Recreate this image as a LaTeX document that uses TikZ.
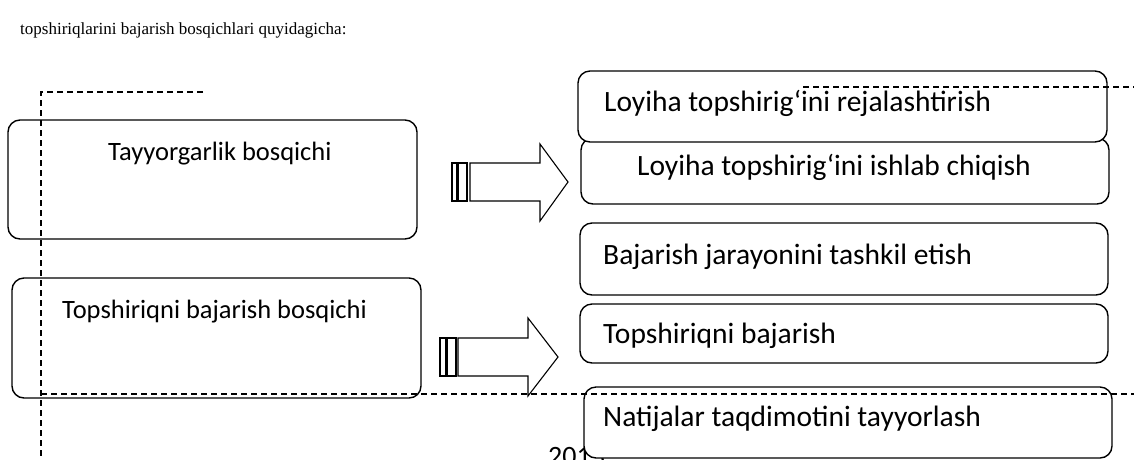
\documentclass[tikz,border=0pt]{standalone}
\usepackage{fontspec}
\setmainfont{Liberation Serif}
\newfontfamily\boxfont{Carlito}
\begin{document}
\begin{tikzpicture}[x=1pt,y=-1pt,
  stagebox/.style={draw,line width=1.4pt,rounded corners=12pt,fill=white},
  boxtext/.style={font=\boxfont\fontsize{29.5}{32}\selectfont,anchor=base west,inner sep=0pt},
  lefttext/.style={font=\boxfont\fontsize{26.5}{30}\selectfont,anchor=base west,inner sep=0pt},
  dashline/.style={line width=1.2pt,dash pattern=on 6pt off 4pt},
  blockarrow/.style={draw,line width=1.1pt,fill=white}]
\path[use as bounding box,fill=white] (0,0) rectangle (1134,459);

% title
\node[font=\fontsize{17}{20}\selectfont,anchor=base west,inner sep=0pt] (title) at (20,34) {topshiriqlarini bajarish bosqichlari quyidagicha:};

% partly hidden page number
\node[font=\boxfont\fontsize{28}{32}\selectfont,anchor=base west,inner sep=0pt] (pnum) at (548,465) {2013};

% left boxes
\draw[stagebox] (8,120) rectangle (417,239) coordinate (boxA);
\node[lefttext] (tA) at (108,160) {Tayyorgarlik bosqichi};
\draw[stagebox] (12,278) rectangle (421,398) coordinate (boxB);
\node[lefttext] (tB) at (62,318) {Topshiriqni bajarish bosqichi};

% right boxes
\draw[stagebox] (581,138) rectangle (1109,204) coordinate (boxR2);
\node[boxtext] (tR2) at (637,175) {Loyiha topshirig‘ini ishlab chiqish};
\draw[stagebox] (578,71) rectangle (1107,142) coordinate (boxR1);
\node[boxtext] (tR1) at (604,111) {Loyiha topshirig‘ini rejalashtirish};
\draw[stagebox] (580,223) rectangle (1108,295) coordinate (boxR3);
\node[boxtext] (tR3) at (603,264) {Bajarish jarayonini tashkil etish};
\draw[stagebox] (580,304) rectangle (1108,363) coordinate (boxR4);
\node[boxtext] (tR4) at (603,343) {Topshiriqni bajarish};
\draw[stagebox] (584,387) rectangle (1112,458) coordinate (boxR5);
\node[boxtext] (tR5) at (603,426) {Natijalar taqdimotini tayyorlash};

% block arrows
\draw[blockarrow] (452,163) rectangle (457,201);
\draw[blockarrow] (458,163) rectangle (467,201);
\draw[blockarrow] (470,163) -- (540,163) -- (540,144) -- (568,182) -- (540,221) -- (540,201) -- (470,201) -- cycle;
\draw[blockarrow] (440,338) rectangle (446,376);
\draw[blockarrow] (447,338) rectangle (456,376);
\draw[blockarrow] (458,338) -- (528,338) -- (528,318) -- (558,357) -- (528,396) -- (528,376) -- (458,376) -- cycle;

% dashed lines
\coordinate (dA) at (203,92);
\coordinate (dB) at (41,92);
\coordinate (dC) at (41,459);
\coordinate (dD) at (41,394);
\coordinate (dE) at (1134,394);
\coordinate (dF) at (803,87);
\coordinate (dG) at (1134,87);
\draw[dashline] (dA) -- (dB) -- (dC);
\draw[dashline] (dD) -- (dE);
\draw[dashline] (dF) -- (dG);
\end{tikzpicture}
\end{document}
